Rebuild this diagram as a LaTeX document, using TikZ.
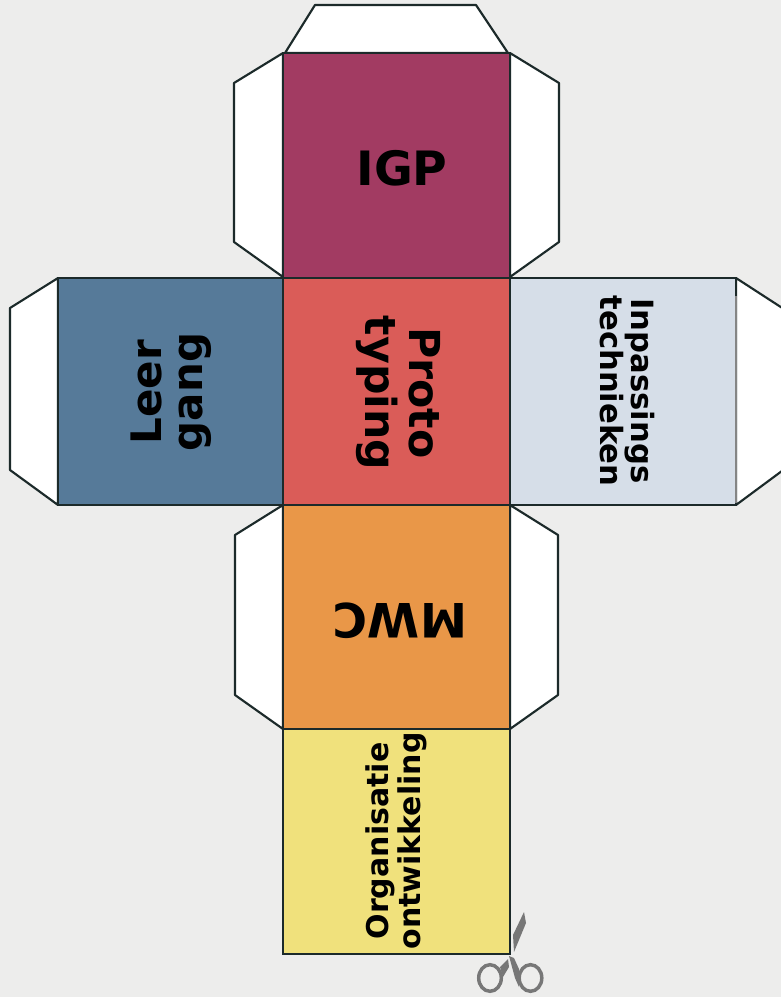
\documentclass[tikz,border=0pt]{standalone}
\usepackage{fontspec}
\setmainfont{DejaVu Sans}
\definecolor{bgc}{HTML}{EDEDEC}
\definecolor{linec}{HTML}{1C2A2A}
\definecolor{igpc}{HTML}{A23B62}
\definecolor{protoc}{HTML}{DA5C58}
\definecolor{leerc}{HTML}{567A99}
\definecolor{inpc}{HTML}{D6DEE8}
\definecolor{mwcc}{HTML}{E99748}
\definecolor{orgc}{HTML}{F0E17C}
\definecolor{scissc}{HTML}{777777}
\tikzset{
  x=0.75pt,y=-0.75pt,
  face/.style={draw=linec,line width=1.6pt,inner sep=0pt},
  tab/.style={draw=linec,line width=1.6pt,fill=white,line join=round},
  lab/.style={inner sep=0pt,align=center,text=black},
  big/.style={font=\fontsize{35.5}{30}\selectfont\bfseries},
  leerf/.style={font=\fontsize{31.5}{31}\selectfont\bfseries},
  bigtwo/.style={font=\fontsize{32}{33}\selectfont\bfseries},
  mid/.style={font=\fontsize{23}{23}\selectfont\bfseries},
  small/.style={font=\fontsize{22.5}{24}\selectfont\bfseries},
}
\begin{document}
\begin{tikzpicture}
\useasboundingbox (0,0) rectangle (781,997);
\fill[bgc] (0,0) rectangle (781,997);
% tabs
\draw[tab] (285,53) -- (315,5) -- (476,5) -- (508,53) -- cycle;
\draw[tab] (283,53) -- (234,83) -- (234,242) -- (283,277) -- cycle;
\draw[tab] (510,53) -- (559,83) -- (559,242) -- (510,277) -- cycle;
\draw[tab] (58,278) -- (10,308) -- (10,470) -- (58,505) -- cycle;
\draw[tab] (736,278) -- (790,313) -- (790,465) -- (736,505) -- cycle;
\draw[tab] (283,505) -- (235,535) -- (235,695) -- (283,729) -- cycle;
\draw[tab] (510,505) -- (558,535) -- (558,695) -- (510,729) -- cycle;
% faces
\node[face,fill=igpc,minimum width=170.25pt,minimum height=168.75pt] (igp) at (396.5,165.5) {};
\node[face,fill=leerc,minimum width=168.75pt,minimum height=170.25pt] (leer) at (170.5,391.5) {};
\node[face,fill=protoc,minimum width=170.25pt,minimum height=170.25pt] (proto) at (396.5,391.5) {};
\node[face,fill=inpc,minimum width=169.5pt,minimum height=170.25pt] (inp) at (623,391.5) {};
\node[face,fill=mwcc,minimum width=170.25pt,minimum height=168pt] (mwc) at (396.5,617) {};
\node[face,fill=orgc,minimum width=170.25pt,minimum height=168.75pt] (org) at (396.5,841.5) {};
% labels
\node[lab,big] (igpt) at (402,168) {IGP};
\node[lab,leerf,rotate=90] (leert) at (171,392) {Leer\\gang};
\node[lab,bigtwo,rotate=-90] (protot) at (398,393) {Proto\\typing};
\node[lab,mid,rotate=-90] (inpt) at (627.5,391) {Inpassings\\technieken};
\node[lab,big,rotate=180] (mwct) at (400,621) {MWC};
\node[lab,small,rotate=90] (orgt) at (396.5,841) {Organisatie\\ontwikkeling};
% right edge of the light face
\draw[scissc!90,line width=1.3pt] (736,296) -- (736,503);
% scissors
\fill[scissc] (524,912) -- (526,923) -- (514,952) -- (513,935) -- cycle;
\fill[scissc] (509,956) -- (514,958) -- (519,969) -- (519,987) -- (515,978) -- cycle;
\fill[scissc] (508,959) -- (509,967) -- (503,977) -- (500,967) -- cycle;
\draw[scissc,line width=2.6pt] (490,978) ellipse [x radius=11.3,y radius=13.3];
\draw[scissc,line width=2.6pt] (530.5,978) ellipse [x radius=11.3,y radius=13.3];
\end{tikzpicture}
\end{document}
